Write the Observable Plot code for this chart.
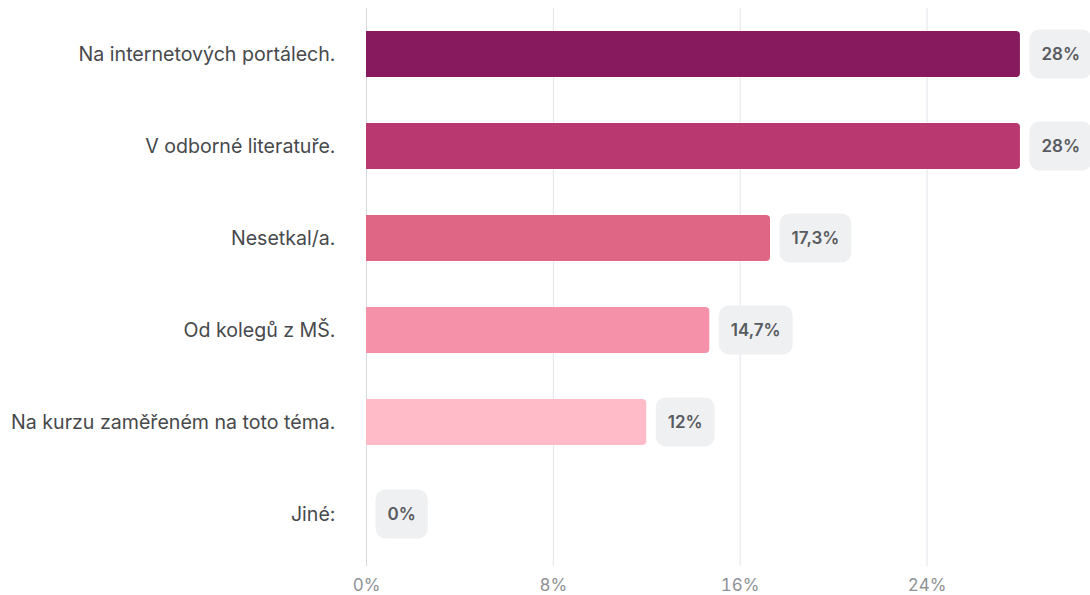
<!DOCTYPE html>
<html>
<head>
<meta charset="utf-8">
<script src="https://cdn.jsdelivr.net/npm/d3@7"></script>
<script src="https://cdn.jsdelivr.net/npm/@observablehq/plot@0.6"></script>
<style>
  html, body { margin: 0; padding: 0; background: #fff; overflow: hidden; }
  #chart { width: 1090px; height: 595px; overflow: hidden; }
</style>
</head>
<body>
<div id="chart"></div>
<script>
const categories = [
  "Na internetových portálech.",
  "V odborné literatuře.",
  "Nesetkal/a.",
  "Od kolegů z MŠ.",
  "Na kurzu zaměřeném na toto téma.",
  "Jiné:"
];
const values = [28, 28, 17.3, 14.7, 12, 0];
const valueLabels = ["28%", "28%", "17,3%", "14,7%", "12%", "0%"];
const barColors = ["#871a5e", "#b9386f", "#e06686", "#f592aa", "#ffbcc8", "#ffd9e0"];
const xTicks = [0, 8, 16, 24];

const data = categories.map((c, i) => ({cat: c, value: values[i], label: valueLabels[i]}));

const chart = Plot.plot({
  width: 1090,
  height: 595,
  marginLeft: 366,
  marginRight: 0,
  marginTop: 8,
  marginBottom: 29,
  style: {fontFamily: "Inter, 'Noto Sans', sans-serif", background: "#fff", overflow: "hidden"},
  x: {domain: [0, 31], ticks: xTicks, label: null},
  y: {domain: categories, paddingInner: 0.5, paddingOuter: 0.25, label: null, insetBottom: 6},
  color: {domain: categories, range: barColors},
  marks: [
    Plot.gridX(xTicks, {stroke: "#e3e5e9", strokeOpacity: 1}),
    Plot.ruleX([0], {stroke: "#d6dadf"}),
    Plot.barX(data, {x: "value", y: "cat", fill: "cat", rx: 4}),
    Plot.barX(data, {x1: 0, x2: d => d.value / 2, y: "cat", fill: "cat"}),
    Plot.text(data, {
      x: "value", y: "cat", text: "label", dx: 21, textAnchor: "start",
      fontSize: 17, fontWeight: 600, fill: "#575b60", className: "vlabel"
    }),
    Plot.axisX({ticks: xTicks, tickSize: 0, tickPadding: 12, fontSize: 17, color: "#8e9195",
      tickFormat: d => d + "%", label: null}),
    Plot.axisY({tickSize: 0, tickPadding: 31, fontSize: 19.6, color: "#47494c", label: null})
  ]
});

document.getElementById("chart").append(chart);

// rounded grey boxes behind the value labels, sized from the rendered text
chart.querySelectorAll("g.vlabel text").forEach(t => {
  const b = t.getBBox();
  const padX = 12, h = 49;
  const rect = document.createElementNS("http://www.w3.org/2000/svg", "rect");
  rect.setAttribute("x", b.x - padX);
  rect.setAttribute("y", b.y + b.height / 2 - h / 2);
  rect.setAttribute("width", b.width + 2 * padX);
  rect.setAttribute("height", h);
  rect.setAttribute("rx", 10);
  rect.setAttribute("fill", "#eff0f1");
  if (t.getAttribute("transform")) rect.setAttribute("transform", t.getAttribute("transform"));
  t.parentNode.insertBefore(rect, t);
});
</script>
</body>
</html>
